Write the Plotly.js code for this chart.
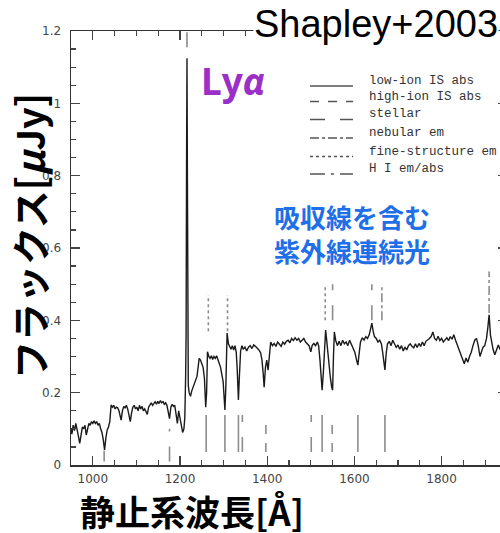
<!DOCTYPE html>
<html>
<head>
<meta charset="utf-8">
<script src="https://cdn.plot.ly/plotly-3.0.1.min.js"></script>
<style>
html,body{margin:0;padding:0;overflow:hidden;background:#fff;width:500px;height:533px;}
#chart{width:510px;height:533px;}
</style>
</head>
<body>
<div id="chart"></div>
<script>
// ---- data ----
const wavelength = [950,952,955,958,961,964,967,970,973,976,979,982,985,988,991,994,997,1000,1003,1006,1009,1012,1015,1018,1021,1024,1027,1030,1033,1036,1039,1042,1045,1048,1051,1054,1057,1060,1063,1065,1068,1071,1074,1077,1080,1083,1086,1089,1092,1095,1098,1101,1104,1107,1110,1113,1116,1119,1122,1125,1128,1131,1134,1137,1140,1143,1146,1149,1152,1155,1158,1161,1164,1167,1170,1173,1176,1179,1182,1185,1188,1191,1194,1197,1200,1203,1206,1209,1211,1213,1214,1215,1216,1217,1218,1219,1221,1224,1227,1230,1233,1236,1239,1242,1244,1247,1250,1253,1256,1259,1261,1263,1266,1269,1272,1275,1278,1281,1284,1287,1290,1293,1296,1299,1301,1303,1305,1308,1311,1314,1317,1320,1323,1326,1329,1331,1334,1336,1339,1342,1345,1349,1353,1357,1361,1365,1369,1373,1377,1381,1385,1388,1391,1393,1396,1399,1402,1405,1408,1412,1416,1420,1424,1428,1432,1436,1440,1444,1448,1452,1456,1460,1464,1468,1472,1476,1480,1484,1488,1492,1496,1500,1503,1507,1511,1515,1518,1521,1524,1526,1529,1532,1534,1536,1539,1542,1545,1548,1550,1552,1554,1557,1561,1565,1569,1573,1577,1581,1585,1589,1593,1597,1601,1605,1608,1611,1614,1618,1622,1626,1630,1634,1637,1640,1643,1646,1650,1654,1658,1662,1665,1668,1670,1673,1676,1680,1684,1688,1692,1696,1700,1704,1708,1712,1716,1720,1724,1728,1732,1736,1740,1744,1748,1752,1756,1760,1764,1768,1772,1776,1780,1784,1788,1792,1796,1800,1804,1808,1812,1816,1820,1824,1828,1832,1836,1840,1844,1848,1852,1856,1860,1864,1868,1872,1876,1880,1884,1888,1891,1895,1899,1903,1906,1909,1912,1915,1918,1922,1926,1930,1934,1938,1942,1946,1950];
const flux = [0.100,0.085,0.110,0.095,0.115,0.100,0.080,0.060,0.090,0.105,0.100,0.110,0.083,0.100,0.115,0.110,0.120,0.115,0.122,0.115,0.120,0.110,0.115,0.100,0.090,0.070,0.042,0.075,0.097,0.105,0.120,0.166,0.160,0.165,0.155,0.160,0.158,0.150,0.130,0.124,0.150,0.162,0.158,0.165,0.155,0.135,0.120,0.145,0.160,0.165,0.155,0.160,0.150,0.165,0.155,0.162,0.150,0.155,0.145,0.140,0.160,0.165,0.172,0.165,0.170,0.175,0.168,0.176,0.170,0.178,0.172,0.175,0.168,0.172,0.165,0.150,0.128,0.160,0.168,0.162,0.165,0.140,0.115,0.150,0.130,0.105,0.090,0.100,0.130,0.250,0.360,0.820,1.125,0.800,0.360,0.220,0.200,0.190,0.205,0.215,0.220,0.230,0.245,0.275,0.295,0.290,0.280,0.270,0.240,0.160,0.200,0.313,0.300,0.295,0.302,0.292,0.300,0.295,0.302,0.292,0.285,0.270,0.250,0.230,0.190,0.152,0.210,0.365,0.335,0.325,0.320,0.330,0.318,0.330,0.312,0.270,0.180,0.240,0.315,0.330,0.320,0.326,0.315,0.326,0.330,0.322,0.332,0.328,0.324,0.318,0.310,0.290,0.250,0.215,0.270,0.290,0.262,0.300,0.340,0.330,0.336,0.328,0.340,0.334,0.328,0.340,0.334,0.342,0.345,0.338,0.350,0.344,0.352,0.345,0.350,0.340,0.346,0.350,0.340,0.335,0.330,0.313,0.330,0.336,0.330,0.340,0.330,0.290,0.230,0.207,0.260,0.340,0.373,0.350,0.310,0.270,0.240,0.215,0.207,0.300,0.368,0.345,0.330,0.342,0.330,0.345,0.335,0.340,0.330,0.345,0.332,0.325,0.312,0.290,0.276,0.310,0.340,0.352,0.345,0.355,0.350,0.360,0.380,0.392,0.370,0.355,0.350,0.340,0.345,0.335,0.310,0.280,0.263,0.310,0.335,0.342,0.330,0.345,0.335,0.325,0.332,0.320,0.330,0.315,0.326,0.318,0.330,0.335,0.328,0.324,0.335,0.325,0.336,0.328,0.340,0.330,0.342,0.345,0.350,0.355,0.368,0.350,0.345,0.356,0.344,0.350,0.340,0.346,0.352,0.344,0.355,0.348,0.360,0.345,0.332,0.320,0.310,0.295,0.280,0.296,0.284,0.300,0.312,0.330,0.345,0.350,0.330,0.300,0.310,0.326,0.330,0.350,0.380,0.415,0.360,0.332,0.320,0.305,0.320,0.332,0.320,0.315,0.325,0.320,0.318];

// line identifications (rest wavelength, Å)
const absLowIon   = [1260, 1303, 1334, 1526, 1608, 1670];
const absHighIon  = [1397, 1549];
const absStellar  = [1176, 1343, 1501];
const absHI       = [1026];
const emFine      = [1265, 1309, 1533];
const emStellar   = [1550, 1640];
const emNebular   = [1663, 1909];
const emHI        = [1216];

const legendLabels = ["low-ion IS abs","high-ion IS abs","stellar","nebular em","fine-structure em","H I em/abs"];
const xTickVals = [1000,1200,1400,1600,1800];
const yTickVals = [0,0.2,0.4,0.6,0.8,1,1.2];
const yTickText = ["0","0.2","0.4","0.6","0.8","1","1.2"];

// ---- geometry helpers (pixel -> paper) ----
const L = 71, R = 3, T = 31, B = 68, W = 510, H = 533;
const PW = W - L - R, PH = H - T - B;
const px = v => (v - L) / PW;
const py = v => (H - B - v) / PH;

const markColor = '#8c8c8c';
const shapes = [];
function vmarks(list, dash, y0, y1, special) {
  list.forEach(w => {
    let a = y0, b = y1;
    if (special && special[w]) { a = special[w][0]; b = special[w][1]; }
    shapes.push({type:'line', xref:'x', yref:'y', x0:w, x1:w, y0:a, y1:b,
      line:{color:markColor, width:1.6, dash:dash}});
  });
}
vmarks(absLowIon, 'solid', 0.036, 0.138);
vmarks(absHighIon, 'dash', 0.036, 0.13);
vmarks(absStellar, 'longdash', 0.036, 0.138, {1176:[0.01,0.10]});
vmarks(absHI, 'longdashdot', 0.01, 0.04);
vmarks(emFine, 'dot', 0.40, 0.50, {1265:[0.37,0.47],1309:[0.37,0.47]});
vmarks(emStellar, 'longdash', 0.40, 0.50);
vmarks(emNebular, 'dashdot', 0.40, 0.50, {1909:[0.42,0.535]});
vmarks(emHI, 'longdashdot', 1.155, 1.2);

// legend samples
const legendDash = ['solid','dash','longdash','dashdot','dot','longdashdot'];
const legendRowY = [86, 101.5, 119.5, 138, 156.5, 174];
const annotations = [];
legendLabels.forEach((lab, i) => {
  shapes.push({type:'line', xref:'paper', yref:'paper', x0:px(310), x1:px(353),
    y0:py(legendRowY[i]), y1:py(legendRowY[i]), line:{color:'#555', width:1.3, dash:legendDash[i]}});
  annotations.push({xref:'paper', yref:'paper', x:px(367), y:py(legendRowY[i]-5),
    xanchor:'left', yanchor:'middle', showarrow:false, text:lab,
    font:{family:'Liberation Mono, DejaVu Sans Mono, monospace', size:12.5, color:'#333'}});
});

annotations.push(
  {xref:'paper', yref:'paper', x:px(376), y:py(24), xanchor:'center', yanchor:'middle', showarrow:false,
   bgcolor:'#fff', borderpad:0,
   text:'Shapley+2003', font:{family:'Liberation Sans, Arial, sans-serif', size:38, color:'#000'}},
  {xref:'paper', yref:'paper', x:px(199), y:py(80), xanchor:'left', yanchor:'middle', showarrow:false,
   text:'Ly<i>α</i>', font:{family:'Noto Sans, Liberation Sans, sans-serif', size:37, color:'#9a30c8', weight:'bold'}},
  {xref:'paper', yref:'paper', x:px(352), y:py(233), xanchor:'center', yanchor:'middle', showarrow:false,
   align:'left', text:'吸収線を含む<br>紫外線連続光',
   font:{family:'Noto Sans CJK JP, sans-serif', size:26, color:'#1f6fe8', weight:'bold'}},
  {xref:'paper', yref:'paper', x:px(192), y:py(510), xanchor:'center', yanchor:'middle', showarrow:false,
   borderpad:0,
   text:'静止系波長[Å]', font:{family:'Noto Sans CJK JP, sans-serif', size:35, color:'#000', weight:'bold'}},
  {xref:'paper', yref:'paper', x:px(28), y:py(236), xanchor:'center', yanchor:'middle', showarrow:false,
   textangle:-90, borderpad:0, text:'フラックス[<i>μ</i>Jy]',
   font:{family:'Noto Sans CJK JP, sans-serif', size:38, color:'#000', weight:'bold'}}
);

const trace = {x:wavelength, y:flux, type:'scatter', mode:'lines',
  line:{color:'#1a1a1a', width:1.4}, hoverinfo:'skip', showlegend:false};

const axisCommon = {showgrid:false, zeroline:false, showline:true, linecolor:'#333', linewidth:1.5,
  ticks:'inside', ticklen:9, tickwidth:1.3, tickcolor:'#444', mirror:'allticks',
  tickfont:{family:'DejaVu Sans, sans-serif', size:12, color:'#444'}};

const layout = {
  width:W, height:H, margin:{l:L, r:R, t:T, b:B, pad:0},
  paper_bgcolor:'#fff', plot_bgcolor:'#fff', showlegend:false,
  xaxis:Object.assign({}, axisCommon, {range:[950,1950], tickvals:xTickVals, ticklabelstandoff:2,
    minor:{dtick:50, tick0:950, ticks:'inside', ticklen:5, tickwidth:1.2, tickcolor:'#444'}}),
  yaxis:Object.assign({}, axisCommon, {range:[0,1.2], tickvals:yTickVals, ticktext:yTickText, ticklabelstandoff:6,
    minor:{dtick:0.05, tick0:0, ticks:'inside', ticklen:5, tickwidth:1.2, tickcolor:'#444'}}),
  shapes:shapes, annotations:annotations
};

Plotly.newPlot('chart', [trace], layout, {staticPlot:true, displayModeBar:false});
</script>
</body>
</html>
